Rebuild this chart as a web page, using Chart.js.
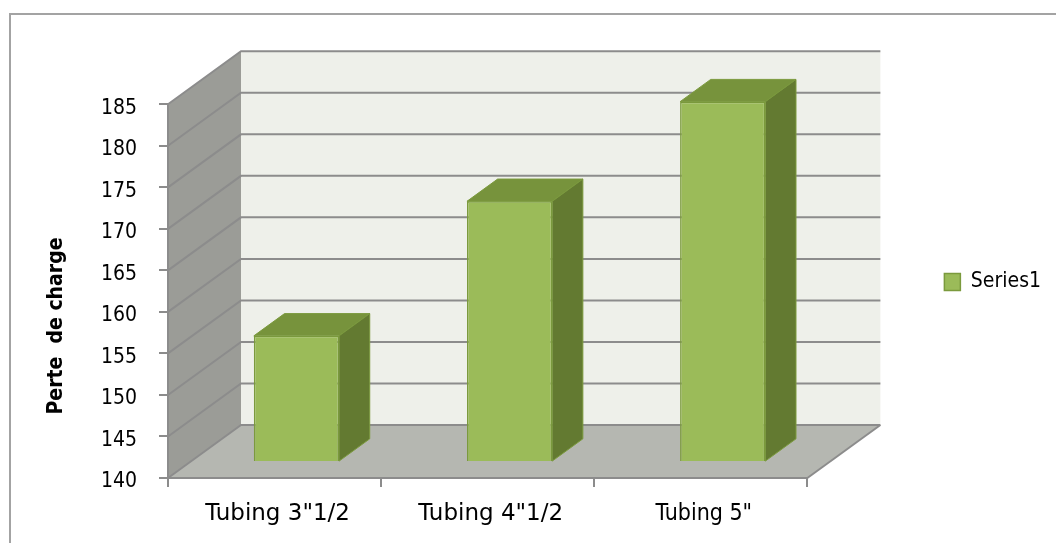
<!DOCTYPE html>
<html>
<head>
<meta charset="utf-8">
<script src="https://cdn.jsdelivr.net/npm/chart.js@4.4.1/dist/chart.umd.min.js"></script>
<style>
  html, body { margin: 0; padding: 0; background: #fff; }
  body { width: 1056px; height: 543px; position: relative; overflow: hidden; }
  .frame { position: absolute; left: 9px; top: 13px; width: 1100px; height: 600px;
           border-left: 2px solid #a3a3a3; border-top: 2px solid #a3a3a3; }
  canvas { position: absolute; left: 0; top: 0; }
</style>
</head>
<body>
<div class="frame"></div>
<canvas id="lossChart" width="1056" height="543"></canvas>
<script>
// Data
const categories = ['Tubing 3"1/2', 'Tubing 4"1/2', 'Tubing 5"'];
const series1 = [155.2, 171.4, 183.4];
const seriesName = 'Series1';
const yMin = 140;
const yTop = 185;
const yStep = 5;
const axisTitle = 'Perte  de charge';

// 3D box settings (pixels / fractions of the depth)
const DEPTH = { x: 73, y: -53 };
const BAR_FRONT = 0.30;
const BAR_DEPTH = 0.42;

const colors = {
  backWall: '#eef0ea',
  sideWall: '#9b9c97',
  floor: '#b5b7b1',
  grid: '#8c8c8c',
  barFront: '#9bbb59',
  barTop: '#77933c',
  barSide: '#637a31',
  barEdge: '#7b9a3d'
};

const narrowFont = "'DejaVu Sans Condensed', sans-serif";

function fillPoly(ctx, pts, fill, stroke) {
  ctx.beginPath();
  ctx.moveTo(pts[0][0], pts[0][1]);
  for (let i = 1; i < pts.length; i++) ctx.lineTo(pts[i][0], pts[i][1]);
  ctx.closePath();
  ctx.fillStyle = fill;
  ctx.fill();
  if (stroke) {
    ctx.strokeStyle = stroke;
    ctx.lineWidth = 1;
    ctx.stroke();
  }
}

// Walls, floor, gridlines and the extra bar faces
const box3d = {
  id: 'box3d',
  beforeDatasetsDraw(chart) {
    const { ctx, chartArea: a, scales: { y } } = chart;
    const x0 = a.left, x1 = a.right;
    const yT = y.getPixelForValue(yTop);
    const yB = y.getPixelForValue(yMin);
    const dx = DEPTH.x, dy = DEPTH.y;

    ctx.save();
    fillPoly(ctx, [[x0, yT], [x0 + dx, yT + dy], [x0 + dx, yB + dy], [x0, yB]], colors.sideWall);
    ctx.fillStyle = colors.backWall;
    ctx.fillRect(x0 + dx, yT + dy, x1 - x0, yB - yT);
    fillPoly(ctx, [[x0, yB], [x1, yB], [x1 + dx, yB + dy], [x0 + dx, yB + dy]], colors.floor);

    ctx.strokeStyle = colors.grid;
    ctx.lineWidth = 2;
    y.ticks.forEach(t => {
      const py = y.getPixelForValue(t.value);
      ctx.beginPath();
      ctx.moveTo(x0, py);
      ctx.lineTo(x0 + dx, py + dy);
      ctx.lineTo(x1 + dx, py + dy);
      ctx.stroke();
    });
    ctx.beginPath();
    ctx.moveTo(x1, yB);
    ctx.lineTo(x1 + dx, yB + dy);
    ctx.stroke();
    ctx.beginPath();
    ctx.moveTo(x0, yT);
    ctx.lineTo(x0, yB);
    ctx.stroke();
    ctx.restore();

    // bars sit part way into the box
    ctx.save();
    ctx.translate(dx * BAR_FRONT, dy * BAR_FRONT);
  },
  afterDatasetsDraw(chart) {
    const ctx = chart.ctx;
    ctx.restore();
    const fx = DEPTH.x * BAR_FRONT, fy = DEPTH.y * BAR_FRONT;
    const bx = DEPTH.x * BAR_DEPTH, by = DEPTH.y * BAR_DEPTH;
    const meta = chart.getDatasetMeta(0);
    ctx.save();
    meta.data.forEach(el => {
      const p = el.getProps(['x', 'y', 'base', 'width'], true);
      const L = p.x - p.width / 2 + fx, R = p.x + p.width / 2 + fx;
      const T = p.y + fy, B = p.base + fy;
      fillPoly(ctx, [[L, T], [R, T], [R + bx, T + by], [L + bx, T + by]], colors.barTop, colors.barEdge);
      fillPoly(ctx, [[R, T], [R + bx, T + by], [R + bx, B + by], [R, B]], colors.barSide, colors.barEdge);
    });
    ctx.restore();
  },
  afterDraw(chart) {
    const ctx = chart.ctx;
    ctx.save();
    ctx.translate(57, 326);
    ctx.rotate(-Math.PI / 2);
    ctx.font = "bold 21px 'DejaVu Sans Condensed', sans-serif";
    ctx.fillStyle = '#000';
    ctx.textAlign = 'center';
    ctx.textBaseline = 'middle';
    ctx.fillText(axisTitle, 0, 0);
    ctx.restore();
  }
};

new Chart(document.getElementById('lossChart'), {
  type: 'bar',
  data: {
    labels: categories,
    datasets: [{
      label: seriesName,
      data: series1,
      base: yMin,
      backgroundColor: colors.barFront,
      borderColor: colors.barEdge,
      borderWidth: 1.5,
      categoryPercentage: 1,
      barPercentage: 0.4,
      clip: false
    }]
  },
  options: {
    responsive: false,
    animation: false,
    layout: { padding: { top: 86, left: 0, bottom: 0, right: 5 } },
    plugins: {
      tooltip: { enabled: false },
      legend: {
        position: 'right',
        fullSize: false,
        maxWidth: 245,
        labels: {
          boxWidth: 16,
          boxHeight: 17,
          padding: 137,
          color: '#000',
          font: { family: narrowFont, size: 21 }
        }
      }
    },
    scales: {
      x: {
        afterFit: s => { s.height = 65; },
        grid: { display: true, drawOnChartArea: false, drawTicks: true, tickLength: 9, color: colors.grid, lineWidth: 2, offset: true },
        border: { display: true, color: colors.grid, width: 2, z: 1 },
        ticks: {
          padding: 13,
          labelOffset: 3,
          color: '#000',
          font: c => c.index === 2
            ? { family: "'DejaVu Sans Condensed', sans-serif", size: 23 }
            : { family: "'DejaVu Sans', sans-serif", size: 23 }
        }
      },
      y: {
        min: yMin,
        max: 187.2,
        afterFit: s => { s.width = 168; },
        grid: { display: true, drawOnChartArea: false, drawTicks: true, tickLength: 9, color: colors.grid, lineWidth: 2 },
        border: { display: false },
        ticks: {
          stepSize: yStep,
          includeBounds: false,
          padding: 22,
          labelOffset: 4,
          color: '#000',
          font: { family: narrowFont, size: 21 }
        }
      }
    }
  },
  plugins: [box3d]
});
</script>
</body>
</html>
